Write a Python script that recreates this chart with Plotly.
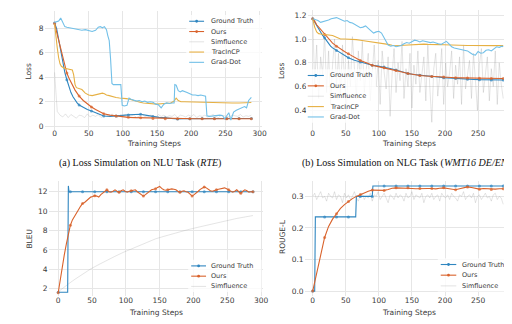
import plotly.graph_objects as go

W, H = 512, 324

# ---------------- data ----------------
X_TICKS = [0, 50, 100, 150, 200, 250, 300]

# (a) Loss simulation, NLU task (RTE)
A_GT_X = [0, 3, 6, 9, 12, 15, 18, 21, 24, 27, 30, 33, 36, 42, 48, 54, 60, 66, 72,
          81, 90, 99, 108, 117, 126, 135, 144, 153, 162, 171, 180, 189, 198, 207, 216,
          225, 234, 243, 252, 261, 270, 279, 288]
A_GT_Y = [8.45, 8.0, 7.1, 6.1, 5.2, 4.4, 3.8, 3.2, 2.75, 2.4, 2.1, 1.9, 1.73,
          1.52, 1.36, 1.24, 1.1, 0.95, 0.83,
          0.8, 0.82, 0.88, 0.92, 0.95, 0.97, 0.88, 0.78, 0.72, 0.68,
          0.63, 0.58, 0.6, 0.61, 0.62, 0.62, 0.62, 0.62, 0.62, 0.62,
          0.62, 0.62, 0.62, 0.62]
A_OURS_Y = [8.4, 7.7, 7.0, 6.3, 5.6, 4.9, 4.35, 3.95, 3.6, 3.25, 2.95, 2.7, 2.46,
            2.1, 1.8, 1.57, 1.36, 1.18, 1.02,
            0.9, 0.83, 0.76, 0.72, 0.7, 0.69, 0.66, 0.63, 0.62, 0.61,
            0.6, 0.6, 0.6, 0.6, 0.61, 0.61, 0.61, 0.6, 0.61, 0.61,
            0.6, 0.6, 0.6, 0.6]
A_SIM_Y = [4.4, 1.2, 0.9, 0.75, 1.0, 0.7, 0.95, 0.8, 0.65, 0.9, 0.85, 0.7, 1.0, 0.75,
           0.9, 0.8, 0.95, 0.7, 0.85, 0.9, 0.75, 1.0, 0.8, 0.7, 0.9, 0.85, 0.95, 0.75,
           0.8, 0.9, 0.7, 0.85, 0.95, 0.8, 0.75, 0.9, 0.85, 0.7, 0.95, 0.8, 0.9, 0.75,
           0.85, 0.8, 0.95, 0.7, 0.9, 0.85, 0.75, 0.9, 0.8, 0.95, 0.7, 0.85, 0.8, 0.9,
           0.75, 0.85, 0.95, 0.8, 0.7, 0.9, 0.85, 0.8, 0.75, 0.9, 0.85, 0.8, 0.95, 0.75,
           0.85, 0.8, 0.9]
A_SIM_STEP = 4
A_TR_X = [0, 2, 4, 6, 8, 10, 14, 18, 22, 26, 28, 30, 32, 36, 40, 45, 50, 55, 60, 65,
          70, 73, 76, 80, 85, 90, 95, 100, 105, 110, 115, 120, 125, 130, 140, 150, 160,
          170, 175, 178, 181, 185, 190, 200, 210, 220, 230, 240, 250, 260, 270, 280, 288]
A_TR_Y = [8.4, 7.2, 6.4, 5.6, 5.1, 4.9, 4.75, 4.7, 4.68, 4.6, 4.2, 3.4, 3.15, 3.1, 3.0,
          2.7, 2.55, 2.5, 2.55, 2.6, 2.7, 2.65, 2.55, 2.5, 2.4, 2.35, 2.3, 2.3,
          2.25, 2.2, 2.1, 2.0, 1.95, 1.9, 1.85, 1.8, 1.85, 1.9,
          2.05, 2.3, 2.1, 2.0, 2.0, 1.98, 1.97, 1.95, 1.9, 1.9, 1.9, 1.9, 1.9, 1.92, 1.93]
A_GD_X = [0, 3, 6, 9, 12, 15, 18, 22, 26, 30, 35, 40, 45, 50, 55, 60, 64, 67, 70, 73,
          76, 78, 80, 82, 84, 86, 90, 94, 97, 99, 102, 106, 109, 112, 116, 120, 124,
          128, 132, 136, 140, 144, 148, 152, 156, 160, 164, 168, 172, 175, 176, 178,
          181, 184, 187, 190, 194, 198, 202, 206, 210, 214, 218, 221, 223, 226, 230,
          234, 238, 242, 246, 249, 252, 255, 258, 262, 266, 270, 274, 278, 281, 284, 288]
A_GD_Y = [8.5, 8.55, 8.6, 8.85, 8.5, 8.15, 8.1, 8.05, 8.0, 8.0, 7.95, 7.85, 7.9, 7.8,
          7.75, 7.85, 8.1, 8.15, 8.05, 8.15, 7.9, 7.4, 7.0, 5.5, 3.5, 3.4, 3.4, 3.45,
          3.4, 1.7, 1.65, 1.7, 2.3, 2.2, 2.1, 2.05, 2.1, 2.0, 2.05, 1.95, 2.0, 1.95,
          1.8, 1.75, 1.5, 1.8, 1.9, 1.85, 1.9, 1.9, 3.4, 3.35, 2.9, 2.8, 2.9, 2.85,
          2.75, 2.65, 2.55, 2.55, 2.5, 2.55, 2.5, 2.45, 0.85, 0.8, 0.82, 0.85, 0.88,
          0.9, 0.85, 0.6, 0.85, 1.1, 0.5, 1.15, 1.3, 1.4, 1.55, 1.6, 1.5, 2.1, 2.35]

# (b) Loss simulation, NLG task (WMT16 DE/EN)
B_X = [0, 3, 6, 9, 12, 15, 18, 21, 24, 27, 30, 36, 42, 48, 54, 63, 72, 81, 90, 99,
       108, 117, 126, 135, 144, 153, 162, 171, 180, 189, 198, 207, 216, 225, 234, 243,
       252, 261, 270, 279, 288]
B_GT_Y = [1.17, 1.14, 1.11, 1.08, 1.05, 1.03, 1.01, 0.985, 0.96, 0.94, 0.925,
          0.903, 0.88, 0.86, 0.842, 0.822, 0.806, 0.792, 0.78, 0.772, 0.764, 0.752,
          0.74, 0.725, 0.71, 0.702, 0.695, 0.69, 0.685, 0.68, 0.675, 0.671, 0.668,
          0.665, 0.662, 0.66, 0.658, 0.657, 0.656, 0.655, 0.655]
B_OURS_Y = [1.17, 1.15, 1.12, 1.1, 1.08, 1.058, 1.037, 1.02, 1.0, 0.98, 0.965,
            0.94, 0.915, 0.895, 0.875, 0.847, 0.82, 0.8, 0.78, 0.768, 0.758, 0.746,
            0.735, 0.722, 0.71, 0.7, 0.693, 0.689, 0.685, 0.682, 0.68, 0.677, 0.674,
            0.673, 0.672, 0.671, 0.67, 0.669, 0.668, 0.668, 0.668]
B_SIM_Y = [1.17, 0.62, 0.95, 0.5, 0.85, 0.7, 1.05, 0.55, 0.9, 0.45, 0.78, 1.0, 0.6,
           0.88, 0.52, 0.95, 0.68, 0.4, 0.82, 0.6, 1.02, 0.7, 0.5, 0.9, 0.65, 0.98,
           0.55, 0.75, 0.88, 0.48, 0.7, 0.95, 0.6, 0.82, 0.45, 0.9, 0.72, 0.58, 0.85,
           0.35, 0.7, 0.92, 0.55, 0.8, 0.65, 0.98, 0.5, 0.75, 0.6, 0.88, 0.42, 0.78,
           0.62, 0.9, 0.55, 0.7, 0.85, 0.48, 0.95, 0.6, 0.3, 0.75, 0.88, 0.52, 0.68,
           0.92, 0.45, 0.8, 0.6, 0.72, 0.9, 0.5, 0.78, 0.62, 0.85, 0.45, 0.95, 0.58,
           0.7, 0.82, 0.5, 0.88, 0.65, 0.4, 0.78, 0.92, 0.55, 0.7, 0.85, 0.48, 0.75,
           0.6, 0.9, 0.45, 0.8, 0.62, 0.5]
B_SIM_STEP = 3
B_TR_X = [0, 3, 6, 9, 12, 18, 24, 30, 36, 42, 48, 54, 60, 66, 72, 78, 84, 90, 96, 102,
          108, 114, 120, 126, 132, 138, 144, 150, 156, 162, 168, 174, 180, 186, 192,
          198, 204, 210, 216, 222, 228, 234, 240, 246, 252, 258, 264, 270, 276, 282, 288]
B_TR_Y = [1.17, 1.1, 1.06, 1.045, 1.042, 1.04, 1.035, 1.03, 1.015, 1.0, 1.0, 1.0,
          0.998, 0.995, 0.99, 0.985, 0.98, 0.978, 0.975, 0.97, 0.965, 0.955, 0.947,
          0.943, 0.945, 0.948, 0.95, 0.955, 0.955, 0.958, 0.957, 0.955, 0.956, 0.955,
          0.953, 0.952, 0.95, 0.948, 0.947, 0.946, 0.946, 0.945, 0.945, 0.944, 0.944,
          0.945, 0.945, 0.944, 0.944, 0.945, 0.945]
B_GD_X = [0, 4, 8, 12, 16, 20, 24, 28, 32, 36, 40, 44, 48, 52, 56, 60, 64, 68, 72, 76,
          80, 84, 88, 92, 96, 100, 104, 108, 111, 114, 118, 122, 126, 130, 134, 138,
          142, 146, 150, 154, 158, 162, 166, 170, 174, 178, 182, 186, 190, 194, 198,
          202, 206, 210, 214, 218, 222, 226, 230, 234, 238, 242, 246, 250, 254, 258,
          262, 266, 270, 274, 278, 282, 286, 288]
B_GD_Y = [1.17, 1.165, 1.155, 1.14, 1.145, 1.15, 1.16, 1.17, 1.175, 1.18,
          1.17, 1.16, 1.15, 1.155, 1.14, 1.135, 1.12, 1.11, 1.095, 1.1,
          1.11, 1.09, 1.07, 1.05, 1.06, 1.065, 1.05, 1.01, 0.97, 0.95,
          0.94, 0.945, 0.935, 0.94, 0.945, 0.96, 0.97, 0.965, 0.98, 0.99,
          0.985, 0.975, 0.985, 0.98, 0.975, 0.97, 0.975, 0.965, 0.96, 0.955,
          0.97, 0.98, 0.96, 0.935, 0.925, 0.92, 0.915, 0.91, 0.905, 0.9,
          0.885, 0.87, 0.865, 0.895, 0.88, 0.885, 0.905, 0.91, 0.9, 0.92,
          0.935, 0.93, 0.94, 0.935]

# (c) BLEU simulation on WebNLG
C_GT_X = [0, 14, 15, 16, 18, 36, 54, 72, 90, 108, 126, 144, 162, 180, 198, 216, 234,
          252, 270, 288]
C_GT_Y = [1.65, 1.65, 12.6, 12.0, 12.0, 12.0, 12.0, 12.0, 12.0, 12.0, 12.0, 12.0,
          12.0, 12.0, 12.0, 12.0, 12.0, 12.0, 12.0, 12.0]
C_OURS_Y = [1.6, 3.0, 4.3, 5.5, 6.6, 7.6, 8.55, 9.1, 9.5, 9.85, 10.15, 10.5, 10.8,
            10.9, 11.1, 11.3, 11.45, 11.5, 11.6, 11.55, 11.45, 11.7, 11.9, 12.05,
            12.2, 12.0, 11.95, 12.05, 12.2, 12.05, 11.95, 12.1, 12.2, 12.05, 11.95,
            12.05, 12.1, 12.15, 12.2, 12.0, 11.85, 11.7, 11.55, 11.7, 11.85, 12.05,
            12.2, 12.25, 12.3, 12.45, 12.55, 12.35, 12.2, 12.15, 12.2, 12.25, 12.3,
            12.25, 12.2, 12.05, 11.95, 12.05, 12.1, 12.0, 11.95, 11.75, 11.55, 11.7,
            11.85, 12.05, 12.25, 12.4, 12.5, 12.4, 12.25, 12.1, 12.05, 12.15, 12.2,
            12.25, 12.3, 12.35, 12.4, 12.3, 12.2, 12.05, 11.95, 12.05, 12.2, 12.0,
            11.85, 12.05, 12.2, 12.1, 11.95, 12.0, 12.0]
C_OURS_STEP = 3
C_SIM_X = [0, 6, 12, 18, 24, 36, 48, 60, 72, 84, 96, 108, 120, 132, 144, 156, 168, 180,
           192, 204, 216, 228, 240, 252, 264, 276, 288]
C_SIM_Y = [1.7, 2.05, 2.35, 2.65, 2.95, 3.5, 4.05, 4.5, 4.95, 5.35, 5.75, 6.1, 6.5,
           6.85, 7.15, 7.4, 7.65, 7.9, 8.1, 8.3, 8.5, 8.7, 8.9, 9.1, 9.25, 9.4, 9.55]

# (d) ROUGE-L simulation on WMT16 DE/EN
D_GT_X = [0, 3, 4, 18, 36, 54, 65, 66, 72, 90, 91, 108, 126, 144, 162, 180, 198, 216,
          234, 252, 270, 288]
D_GT_Y = [0.0, 0.0, 0.235, 0.235, 0.235, 0.235, 0.235, 0.300, 0.300, 0.300, 0.333,
          0.333, 0.333, 0.333, 0.333, 0.333, 0.333, 0.333, 0.333, 0.333, 0.333, 0.333]
D_OURS_Y = [0.0, 0.06, 0.12, 0.17, 0.205, 0.228, 0.245, 0.262, 0.274, 0.284, 0.293,
            0.3, 0.306, 0.311, 0.316, 0.32, 0.32, 0.318, 0.319, 0.322, 0.326, 0.327,
            0.327, 0.326, 0.327, 0.325, 0.324, 0.325, 0.326, 0.325, 0.325, 0.324,
            0.326, 0.327, 0.325, 0.322, 0.321, 0.324, 0.328, 0.33, 0.328, 0.325,
            0.323, 0.325, 0.324, 0.322, 0.323, 0.324, 0.324]
D_OURS_STEP = 6
D_SIM_Y = [0.3, 0.31, 0.29, 0.305, 0.315, 0.295, 0.3, 0.285, 0.31, 0.3, 0.295, 0.315,
           0.29, 0.305, 0.3, 0.28, 0.31, 0.295, 0.305, 0.29, 0.3, 0.315, 0.295, 0.285,
           0.305, 0.31, 0.29, 0.3, 0.295, 0.31, 0.285, 0.305, 0.3, 0.315, 0.29, 0.3,
           0.31, 0.295, 0.28, 0.305, 0.3, 0.29, 0.31, 0.295, 0.305, 0.3, 0.285, 0.31,
           0.295, 0.3, 0.315, 0.29, 0.305, 0.3, 0.295, 0.31, 0.28, 0.3, 0.305, 0.295,
           0.31, 0.29, 0.3, 0.305, 0.285, 0.31, 0.3, 0.295, 0.305, 0.29, 0.31, 0.3,
           0.295, 0.285, 0.305, 0.3, 0.315, 0.29, 0.3, 0.305, 0.295, 0.31, 0.28, 0.3,
           0.305, 0.29, 0.3, 0.31, 0.295, 0.3, 0.285, 0.305, 0.31, 0.29, 0.3, 0.295,
           0.275]
D_SIM_STEP = 3

# ---------------- style ----------------
C_GT = "#2f86c0"
C_OURS = "#d9622b"
C_SIM = "rgba(150,150,150,0.25)"
C_TR = "#e6b043"
C_GD = "#72c0e8"
FONT = "DejaVu Sans"
TICK_COLOR = "#3a3a3a"
MARK_EVERY = 18


def px(x):
    return x / W


def py(y):
    return 1 - y / H


def steps(n, step):
    return [i * step for i in range(n)]


def msizes(xs):
    return [3.0 if x % MARK_EVERY == 0 else 0 for x in xs]


fig = go.Figure()

PANELS = {
    "a": dict(ax="", dom=(37, 257, 3, 122), xr=[-14.5, 304.3], yr=[-0.286, 9.43],
              yt=[0, 2, 4, 6, 8], fmt=None),
    "b": dict(ax="2", dom=(302.5, 511, 2, 122), xr=[-7.8, 304.3], yr=[0.238, 1.244],
              yt=[0.4, 0.6, 0.8, 1.0, 1.2], fmt=".1f"),
    "c": dict(ax="3", dom=(41, 257.5, 174, 289), xr=[-14.2, 302.8], yr=[1.25, 13.06],
              yt=[2, 4, 6, 8, 10, 12], fmt=None),
    "d": dict(ax="4", dom=(299.5, 511, 174, 289), xr=[-12.3, 304.3], yr=[-0.0158, 0.3473],
              yt=[0.0, 0.1, 0.2, 0.3], fmt=".1f"),
}


def line(name, xs, ys, color, panel, width=1.1, markers=False):
    ax = PANELS[panel]["ax"]
    tr = go.Scatter(
        x=xs, y=ys, name=name, mode="lines+markers" if markers else "lines",
        line=dict(color=color, width=width), showlegend=False,
        xaxis="x" + ax, yaxis="y" + ax, hoverinfo="skip",
    )
    if markers:
        tr.marker = dict(size=msizes(xs), color=color, line=dict(width=0))
    fig.add_trace(tr)


# (a)
line("Ground Truth", A_GT_X, A_GT_Y, C_GT, "a", markers=True)
line("Ours", A_GT_X, A_OURS_Y, C_OURS, "a", markers=True)
line("Simfluence", steps(len(A_SIM_Y), A_SIM_STEP), A_SIM_Y, C_SIM, "a", width=1)
line("TracInCP", A_TR_X, A_TR_Y, C_TR, "a")
line("Grad-Dot", A_GD_X, A_GD_Y, C_GD, "a")
# (b)
line("Simfluence", steps(len(B_SIM_Y), B_SIM_STEP), B_SIM_Y, C_SIM, "b", width=1)
line("Ground Truth", B_X, B_GT_Y, C_GT, "b", markers=True)
line("Ours", B_X, B_OURS_Y, C_OURS, "b", markers=True)
line("TracInCP", B_TR_X, B_TR_Y, C_TR, "b")
line("Grad-Dot", B_GD_X, B_GD_Y, C_GD, "b")
# (c)
line("Simfluence", C_SIM_X, C_SIM_Y, C_SIM, "c", width=1)
line("Ground Truth", C_GT_X, C_GT_Y, C_GT, "c", markers=True)
line("Ours", steps(len(C_OURS_Y), C_OURS_STEP), C_OURS_Y, C_OURS, "c", markers=True)
# (d)
line("Simfluence", steps(len(D_SIM_Y), D_SIM_STEP), D_SIM_Y, C_SIM, "d", width=1)
line("Ground Truth", D_GT_X, D_GT_Y, C_GT, "d", markers=True)
line("Ours", steps(len(D_OURS_Y), D_OURS_STEP), D_OURS_Y, C_OURS, "d", markers=True)

layout = dict(
    width=W, height=H, autosize=False,
    margin=dict(l=0, r=0, t=0, b=0, pad=0),
    paper_bgcolor="white", plot_bgcolor="white",
    font=dict(family=FONT, size=7.5, color=TICK_COLOR),
)
for key, p in PANELS.items():
    x0, x1, yt, yb = p["dom"]
    ax = p["ax"]
    layout["xaxis" + ax] = dict(
        domain=[px(x0), px(x1)], range=p["xr"], anchor="y" + ax,
        tickvals=X_TICKS, showgrid=True, gridcolor="#e6e6e6", gridwidth=1,
        zeroline=False, showline=False, ticks="", ticklen=0, ticklabelstandoff=-2,
        fixedrange=True, tickfont=dict(size=7.5, color=TICK_COLOR),
    )
    yd = dict(
        domain=[py(yb), py(yt)], range=p["yr"], anchor="x" + ax,
        tickvals=p["yt"], showgrid=True, gridcolor="#e6e6e6", gridwidth=1,
        zeroline=False, showline=False, ticks="", ticklen=0, fixedrange=True,
        tickfont=dict(size=7.5, color=TICK_COLOR),
    )
    if p["fmt"]:
        yd["tickformat"] = p["fmt"]
    layout["yaxis" + ax] = yd
fig.update_layout(**layout)

# axis titles
AX_TITLES = [
    ("Training Steps", 147, 136, 0), ("Training Steps", 405, 136, 0),
    ("Training Steps", 149, 305, 0), ("Training Steps", 405, 305, 0),
    ("Loss", 21, 63, -90), ("Loss", 277, 63, -90),
    ("BLEU", 21.5, 231, -90), ("ROUGE-L", 277.5, 229, -90),
]
for txt, x, y, ang in AX_TITLES:
    fig.add_annotation(text=txt, x=px(x), y=py(y), xref="paper", yref="paper",
                       showarrow=False, textangle=ang, xanchor="center", yanchor="middle",
                       borderpad=0, font=dict(family=FONT, size=7.5, color=TICK_COLOR))

# legends (drawn as keys + text)
LEG_ALL = [("Ground Truth", C_GT, True), ("Ours", C_OURS, True),
           ("Simfluence", C_SIM, False), ("TracInCP", C_TR, False),
           ("Grad-Dot", C_GD, False)]
LEGENDS = [
    (LEG_ALL, 183, 198, 203.5, 13.3, 10.3, (180, 7, 256, 60)),
    (LEG_ALL, 302.7, 319, 324, 67.7, 10.4, (301, 61.5, 372, 115)),
    (LEG_ALL[:3], 185, 200, 204, 258.7, 10.3, (182, 252.5, 256, 285)),
    (LEG_ALL[:3], 437, 452.7, 457.5, 257.3, 10.7, (434, 251, 510, 284.5)),
]
for entries, lx0, lx1, tx, y0, dy, box in LEGENDS:
    fig.add_shape(type="rect", xref="paper", yref="paper",
                  x0=px(box[0]), x1=px(box[2]), y0=py(box[3]), y1=py(box[1]),
                  fillcolor="rgba(255,255,255,0.8)", line=dict(width=0), layer="above")
    for i, (name, col, mk) in enumerate(entries):
        yy = y0 + i * dy
        fig.add_shape(type="line", xref="paper", yref="paper",
                      x0=px(lx0), x1=px(lx1), y0=py(yy), y1=py(yy),
                      line=dict(color=col, width=1.1), layer="above")
        if mk:
            cx = (lx0 + lx1) / 2
            fig.add_shape(type="circle", xref="paper", yref="paper",
                          x0=px(cx - 1.4), x1=px(cx + 1.4), y0=py(yy + 1.4), y1=py(yy - 1.4),
                          fillcolor=col, line=dict(width=0), layer="above")
        fig.add_annotation(text=name, x=px(tx), y=py(yy), xref="paper", yref="paper",
                           showarrow=False, xanchor="left", yanchor="middle", borderpad=0,
                           font=dict(family=FONT, size=6.5, color=TICK_COLOR))

# captions
CAPTIONS = [
    ("(a) Loss Simulation on NLU Task (<i>RTE</i>)", 50, 155),
    ("(b) Loss Simulation on NLG Task (<i>WMT16 DE/EN</i>)", 296, 155),
    ("(c) BLEU Simulation on <i>WebNLG</i>", 65, 324.5),
    ("(d) ROUGE-L Simulation on <i>WMT16 DE/EN</i>", 293, 324.5),
]
for txt, x, y in CAPTIONS:
    fig.add_annotation(text=txt, x=px(x), y=py(y), xref="paper", yref="paper",
                       showarrow=False, xanchor="left", yanchor="middle", borderpad=0,
                       font=dict(family="Liberation Serif", size=10, color="#111111"))

fig.write_html("out.html")
